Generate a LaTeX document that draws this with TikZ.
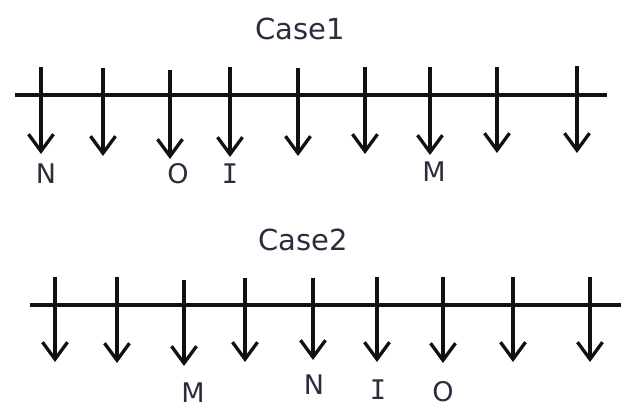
\documentclass[tikz,border=0pt]{standalone}
\usepackage{fontspec}
\setmainfont{DejaVu Sans}
\newfontfamily\serifI{DejaVu Sans Mono}
\usetikzlibrary{arrows.meta}
\definecolor{ink}{HTML}{111111}
\definecolor{titleink}{HTML}{2C2C3C}
\tikzset{
  axisline/.style={line width=3.3pt, draw=ink},
  downarrow/.style={line width=3.3pt, draw=ink, -{Straight Barb[length=17pt,width=25pt,line width=3.3pt]}},
  casetitle/.style={font=\fontsize{29}{29}\selectfont, text=titleink, inner sep=0pt},
  ptlabel/.style={font=\fontsize{27}{27}\selectfont, text=titleink, inner sep=0pt},
  ilabel/.style={font=\serifI\fontsize{27}{27}\selectfont, text=titleink, inner sep=0pt},
}
\begin{document}
\begin{tikzpicture}[x=1pt,y=-1pt]
\useasboundingbox (0,0) rectangle (624,408);
% ---------------- Case 1 ----------------
\node[casetitle] (title1) at (300,29) {Case1};
\coordinate (l1) at (15,95);
\coordinate (r1) at (607,95);
\draw[axisline] (l1) -- (r1);
\foreach \i/\x/\yt/\yb in {1/41/67/154, 2/103/68/156, 3/170/70/159, 4/230/67/157, 5/298/68/156, 6/365/67/154, 7/430/67/155, 8/497/67/153, 9/577/66/153}{
  \coordinate (a\i t) at (\x,\yt);
  \coordinate (a\i b) at (\x,\yb);
  \draw[downarrow] (a\i t) -- (a\i b);
}
\node[ptlabel] (n1) at (46,174) {N};
\node[ptlabel] (o1) at (178,174) {O};
\node[ilabel] (i1) at (230,174) {I};
\node[ptlabel] (m1) at (434,172) {M};
% ---------------- Case 2 ----------------
\node[casetitle] (title2) at (303,240) {Case2};
\coordinate (l2) at (30,305);
\coordinate (r2) at (621,305);
\draw[axisline] (l2) -- (r2);
\foreach \i/\x/\yt/\yb in {1/55/277/362, 2/117/277/363, 3/184/280/366, 4/245/278/362, 5/313/278/360, 6/377/277/362, 7/443/277/363, 8/513/277/362, 9/590/277/362}{
  \coordinate (b\i t) at (\x,\yt);
  \coordinate (b\i b) at (\x,\yb);
  \draw[downarrow] (b\i t) -- (b\i b);
}
\node[ptlabel] (m2) at (193,393) {M};
\node[ptlabel] (n2) at (314,385) {N};
\node[ilabel] (i2) at (378,390) {I};
\node[ptlabel] (o2) at (443,392) {O};
\end{tikzpicture}
\end{document}
